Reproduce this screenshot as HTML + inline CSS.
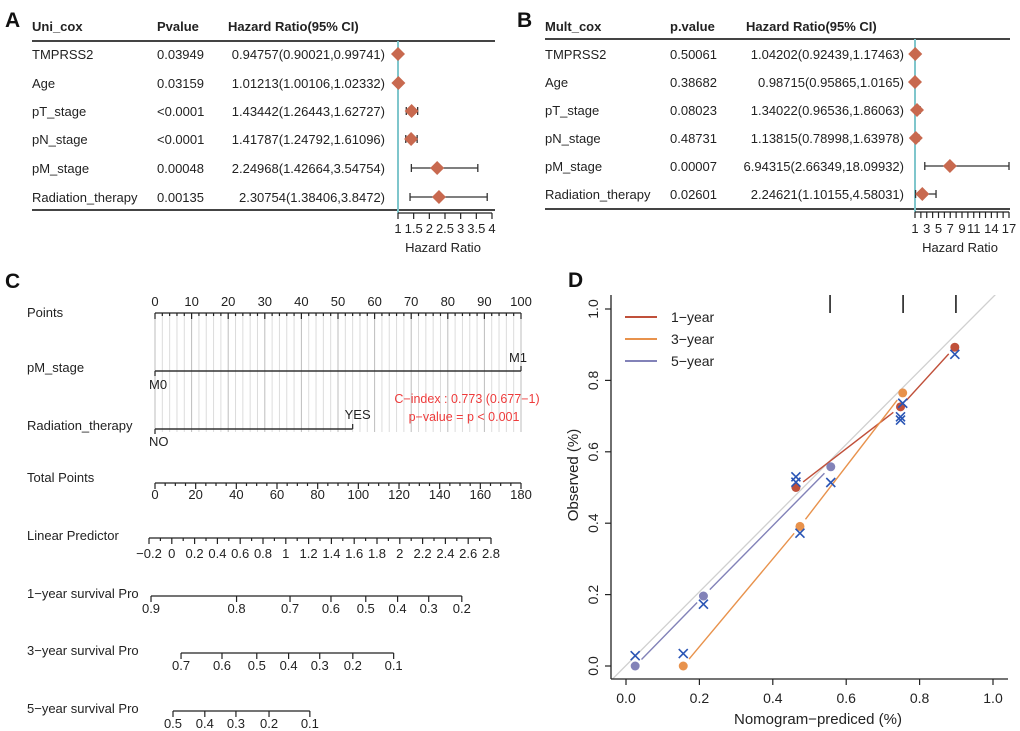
<!DOCTYPE html>
<html><head><meta charset="utf-8">
<style>
html,body{margin:0;padding:0;background:#fff;}
svg{display:block;font-family:"Liberation Sans",Arial,sans-serif;}
</style></head>
<body>
<svg id="fig" width="1020" height="731" viewBox="0 0 1020 731" xmlns="http://www.w3.org/2000/svg"></svg>
<script>
// ---------- DATA ----------
const uniVars = ["TMPRSS2","Age","pT_stage","pN_stage","pM_stage","Radiation_therapy"];
const uniP = ["0.03949","0.03159","<0.0001","<0.0001","0.00048","0.00135"];
const uniHR = [0.94757,1.01213,1.43442,1.41787,2.24968,2.30754];
const uniLo = [0.90021,1.00106,1.26443,1.24792,1.42664,1.38406];
const uniHi = [0.99741,1.02332,1.62727,1.61096,3.54754,3.8472];
const uniHRText = ["0.94757(0.90021,0.99741)","1.01213(1.00106,1.02332)","1.43442(1.26443,1.62727)","1.41787(1.24792,1.61096)","2.24968(1.42664,3.54754)","2.30754(1.38406,3.8472)"];
const uniTicks = [1,1.5,2,2.5,3,3.5,4];

const multVars = ["TMPRSS2","Age","pT_stage","pN_stage","pM_stage","Radiation_therapy"];
const multP = ["0.50061","0.38682","0.08023","0.48731","0.00007","0.02601"];
const multHR = [1.04202,0.98715,1.34022,1.13815,6.94315,2.24621];
const multLo = [0.92439,0.95865,0.96536,0.78998,2.66349,1.10155];
const multHi = [1.17463,1.0165,1.86063,1.63978,18.09932,4.58031];
const multHRText = ["1.04202(0.92439,1.17463)","0.98715(0.95865,1.0165)","1.34022(0.96536,1.86063)","1.13815(0.78998,1.63978)","6.94315(2.66349,18.09932)","2.24621(1.10155,4.58031)"];
const multTickLabels = [1,3,5,7,9,11,14,17];

const pointsTicks = [0,10,20,30,40,50,60,70,80,90,100];
const pmPoints = [0,100];
const radPoints = [0,54];
const totalTicks = [0,20,40,60,80,100,120,140,160,180];
const lpTicks = [-0.2,0,0.2,0.4,0.6,0.8,1,1.2,1.4,1.6,1.8,2,2.2,2.4,2.6,2.8];
const surv1Ticks = [0.9,0.8,0.7,0.6,0.5,0.4,0.3,0.2];
const surv3Ticks = [0.7,0.6,0.5,0.4,0.3,0.2,0.1];
const surv5Ticks = [0.5,0.4,0.3,0.2,0.1];
const survOffset = [2.068,1.112,0.377]; // lp = log(-log S) + offset

const cal1Pred = [0.463,0.748,0.896];
const cal1Obs = [0.50,0.726,0.893];
const cal1Corr = [0.530,0.698,0.873];
const cal3Pred = [0.156,0.474,0.754];
const cal3Obs = [0.0,0.391,0.765];
const cal3Corr = [0.035,0.372,0.736];
const cal5Pred = [0.025,0.211,0.558];
const cal5Obs = [0.0,0.196,0.558];
const cal5Corr = [0.029,0.173,0.514];
const extraCorrPred = [0.463,0.748];
const extraCorrObs = [0.515,0.689];
const rugX = [0.556,0.755,0.899];
const calTicks = [0,0.2,0.4,0.6,0.8,1.0];

// ---------- HELPERS ----------
const NS="http://www.w3.org/2000/svg";
const svg=document.getElementById('fig');
function mk(tag,attrs,parent){const e=document.createElementNS(NS,tag);for(const k in attrs)e.setAttribute(k,attrs[k]);(parent||svg).appendChild(e);return e;}
function txt(s,x,y,size,anchor,extra,parent){const e=mk('text',Object.assign({x:x,y:y,'font-size':size,'text-anchor':anchor||'start',fill:'#222'},extra||{}),parent);e.textContent=s;return e;}
function line(x1,y1,x2,y2,stroke,w,parent){return mk('line',{x1:x1,y1:y1,x2:x2,y2:y2,stroke:stroke,'stroke-width':w},parent);}
function fmt(v){return (Math.round(v*10)/10).toString();}

// ---------- PANEL LETTERS ----------
[["A",5,27],["B",517,27],["C",5,288],["D",568,287]].forEach(p=>{
  const t=txt(p[0],p[1],p[2],21,'start',{'font-weight':'bold',fill:'#111'});
  
  
});

// ---------- FOREST PLOT ----------
function forest(cfg){
  const g=mk('g',{});
  
  
  const xs=v=>cfg.x0+(Math.min(Math.max(v,cfg.vmin),cfg.vmax)-cfg.vmin)*cfg.k;
  const h1=txt(cfg.h[0],cfg.colLabel,31,13,'start',{'font-weight':'bold'},g);
  
  
  const h2=txt(cfg.h[1],cfg.colP,31,13,'start',{'font-weight':'bold'},g);
  
  
  const h3=txt(cfg.h[2],cfg.colHRh,31,13,'start',{'font-weight':'bold'},g);
  
  
  line(cfg.colLabel,cfg.topY,cfg.right,cfg.topY,'#444',2,g);
  line(cfg.colLabel,cfg.botY,cfg.right,cfg.botY,'#444',2,g);
  line(xs(1),cfg.topY,xs(1),cfg.axisY,'#7fc6cc',2,g);
  cfg.vars.forEach((v,i)=>{
    const y=cfg.rowY[i];
    const a=txt(v,cfg.colLabel,y+5,13,'start',{},g);
    
    
    const b=txt(cfg.p[i],cfg.colP,y+5,13,'start',{},g);
    
    
    const c=txt(cfg.hrt[i],cfg.colHR,y+5,13,'end',{},g);
    
    
    const lo=xs(cfg.lo[i]),hi=xs(cfg.hi[i]),m=xs(cfg.hr[i]);
    const ci=line(lo,y,hi,y,'#333',1.3,g);
    
    
    line(lo,y-4,lo,y+4,'#333',1.3,g);
    line(hi,y-4,hi,y+4,'#333',1.3,g);
    const d=mk('polygon',{points:`${m-7},${y} ${m},${y-7} ${m+7},${y} ${m},${y+7}`,fill:'#c8694f'},g);
    
    
  });
  line(xs(cfg.vmin),cfg.axisY,xs(cfg.vmax),cfg.axisY,'#222',1.3,g);
  cfg.minor.forEach(v=>line(xs(v),cfg.axisY,xs(v),cfg.axisY+6,'#222',1.2,g));
  cfg.labels.forEach(v=>{
    const t=txt(String(v),xs(v),233,13,'middle',{},g);
    
    
  });
  const at=txt('Hazard Ratio',cfg.titleX,252,13,'middle',{},g);
  
  
}
forest({name:'panel-a-univariate-forest',h:["Uni_cox","Pvalue","Hazard Ratio(95% CI)"],colLabel:32,colP:157,colHRh:228,colHR:385,right:495,
  topY:41,botY:210,axisY:213,x0:398,vmin:1,vmax:4,k:31.33,rowY:[54,83,111,139,168,197],
  vars:uniVars,p:uniP,hr:uniHR,lo:uniLo,hi:uniHi,hrt:uniHRText,minor:uniTicks,labels:uniTicks,titleX:443});
const mm=[];for(let v=1;v<=17;v++)mm.push(v);
forest({name:'panel-b-multivariate-forest',h:["Mult_cox","p.value","Hazard Ratio(95% CI)"],colLabel:545,colP:670,colHRh:746,colHR:904,right:1010,
  topY:39,botY:209,axisY:212,x0:915,vmin:1,vmax:17,k:5.875,rowY:[54,82,110,138,166,194],
  vars:multVars,p:multP,hr:multHR,lo:multLo,hi:multHi,hrt:multHRText,minor:mm,labels:multTickLabels,titleX:960});

// ---------- NOMOGRAM ----------
const nom=mk('g',{});


const P0=155,P1=521;
const px=v=>P0+(v/100)*(P1-P0);
const tpx=v=>P0+(v/180)*(P1-P0);
const lpx=v=>149+(v+0.2)*114;
for(let v=0;v<=100;v+=2){
  line(px(v),313,px(v),432,v%10===0?'#bdbdbd':'#dcdcdc',1,nom);
}
function rowLabel(s,y){const t=txt(s,27,y+5,13,'start',{},nom);}
rowLabel('Points',312);
line(px(0),313,px(100),313,'#222',1.3,nom);
for(let v=0;v<=100;v+=2) line(px(v),313,px(v),v%10===0?319:316,'#222',1.2,nom);
pointsTicks.forEach(v=>{const t=txt(String(v),px(v),306,13,'middle',{},nom);});
rowLabel('pM_stage',367);
const pml=line(px(pmPoints[0]),371,px(pmPoints[1]),371,'#333',1.5,nom);


line(px(pmPoints[0]),371,px(pmPoints[0]),376,'#333',1.3,nom);
line(px(pmPoints[1]),366,px(pmPoints[1]),371,'#333',1.3,nom);
txt('M0',px(pmPoints[0])-6,389,13,'start',{},nom);
txt('M1',px(pmPoints[1])+6,362,13,'end',{},nom);
rowLabel('Radiation_therapy',425);
const rl=line(px(radPoints[0]),429,px(radPoints[1]),429,'#333',1.5,nom);


line(px(radPoints[0]),429,px(radPoints[0]),434,'#333',1.3,nom);
line(px(radPoints[1]),424,px(radPoints[1]),429,'#333',1.3,nom);
txt('NO',px(radPoints[0])-6,446,13,'start',{},nom);
txt('YES',px(radPoints[1])+5,419,13,'middle',{},nom);
const ci1=txt('C\u2212index : 0.773 (0.677\u22121)',467,403,12.5,'middle',{fill:'#ee3b3b'},nom);


const ci2=txt('p\u2212value = p < 0.001',464,421,12.5,'middle',{fill:'#ee3b3b'},nom);


rowLabel('Total Points',477);
line(tpx(0),483,tpx(180),483,'#222',1.3,nom);
for(let v=0;v<=180;v+=5) line(tpx(v),483,tpx(v),v%20===0?489:486,'#222',1.2,nom);
totalTicks.forEach(v=>{const t=txt(String(v),tpx(v),499,13,'middle',{},nom);});
rowLabel('Linear Predictor',535);
line(lpx(-0.2),538,lpx(2.8),538,'#222',1.3,nom);
for(let i=-2;i<=28;i++){const v=i/10;line(lpx(v),538,lpx(v),i%2===0?544:541,'#222',1.2,nom);}
lpTicks.forEach(v=>{const t=txt(fmt(v).replace('-','\u2212'),lpx(v),558,13,'middle',{},nom);});
function survScale(label,ticks,off,y){
  rowLabel(label,y-3);
  const pos=s=>lpx(Math.log(-Math.log(s))+off);
  const l=line(pos(ticks[0]),y,pos(ticks[ticks.length-1]),y,'#222',1.3,nom);
  
  
  ticks.forEach(s=>{
    line(pos(s),y,pos(s),y+6,'#222',1.2,nom);
    const t=txt(fmt(s),pos(s),y+17,13,'middle',{},nom);
    
    
  });
}
survScale('1\u2212year survival Pro',surv1Ticks,survOffset[0],596);
survScale('3\u2212year survival Pro',surv3Ticks,survOffset[1],653);
survScale('5\u2212year survival Pro',surv5Ticks,survOffset[2],711);

// ---------- CALIBRATION ----------
const cal=mk('g',{});


const cx=v=>626+v*367, cy=v=>666-v*357;
const clip=mk('clipPath',{id:'calclip'},cal);mk('rect',{x:611,y:295,width:397,height:384},clip);
const diag=line(cx(-0.045),cy(-0.045),cx(1.045),cy(1.08),'#d0d0d0',1.3,cal);
diag.setAttribute('clip-path','url(#calclip)');


line(611,295,611,679,'#222',1.3,cal);
line(611,679,1008,679,'#222',1.3,cal);
calTicks.forEach(v=>{
  line(cx(v),679,cx(v),685,'#222',1.2,cal);
  const t=txt(v.toFixed(1),cx(v),703,14,'middle',{},cal);
  
  
  line(605,cy(v),611,cy(v),'#222',1.2,cal);
  const u=txt(v.toFixed(1),598,cy(v),14,'middle',{transform:`rotate(-90 598 ${cy(v)})`},cal);
  
  
});
const xt=txt('Nomogram\u2212prediced (%)',818,724,15,'middle',{},cal);


const yt=txt('Observed (%)',578,475,15,'middle',{transform:'rotate(-90 578 475)'},cal);


rugX.forEach(v=>{const r=line(cx(v),295,cx(v),313,'#111',1.5,cal);});
function series(name,pred,obs,corr,color){
  const g=mk('g',{},cal);
  
  
  for(let i=0;i<pred.length-1;i++){
    const x1=pred[i],y1=obs[i],x2=pred[i+1],y2=obs[i+1];
    const dx=x2-x1,dy=y2-y1,len=Math.hypot(dx,dy),gap=0.025;
    const s=line(cx(x1+dx*gap/len),cy(y1+dy*gap/len),cx(x2-dx*gap/len),cy(y2-dy*gap/len),color,1.4,g);
    
    
  }
  pred.forEach((p,i)=>{
    const c=mk('circle',{cx:cx(p),cy:cy(obs[i]),r:4.5,fill:color},g);
    
    
  });
  pred.forEach((p,i)=>drawX(p,corr[i],g));
}
function drawX(p,o,g){
  const x=cx(p),y=cy(o),d=4.5;
  const e=mk('path',{d:`M${x-d},${y-d}L${x+d},${y+d}M${x-d},${y+d}L${x+d},${y-d}`,stroke:'#2a55b5','stroke-width':1.6,fill:'none'},g);
  
  
}
series('series-1-year',cal1Pred,cal1Obs,cal1Corr,'#c0503a');
series('series-3-year',cal3Pred,cal3Obs,cal3Corr,'#e8924c');
series('series-5-year',cal5Pred,cal5Obs,cal5Corr,'#8282b8');
extraCorrPred.forEach((p,i)=>drawX(p,extraCorrObs[i],cal));
[['1\u2212year','#c0503a',317],['3\u2212year','#e8924c',339],['5\u2212year','#8282b8',361]].forEach(l=>{
  const g=mk('g',{},cal);
  
  
  line(625,l[2],657,l[2],l[1],2,g);
  txt(l[0],671,l[2]+5,14,'start',{},g);
});
</script>
</body></html>
